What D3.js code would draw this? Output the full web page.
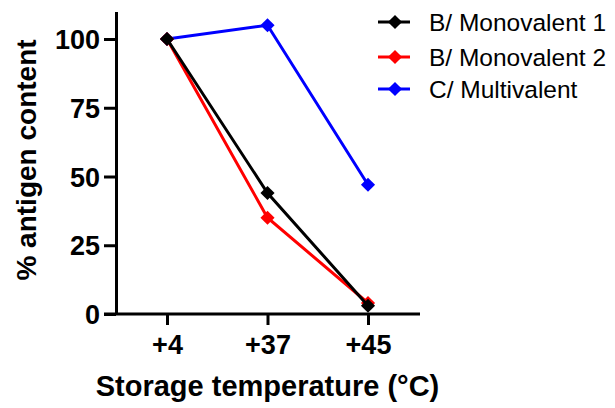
<!DOCTYPE html>
<html lang="en">
<head>
<meta charset="UTF-8"/>
<title>Antigen content vs storage temperature</title>
<script src="https://d3js.org/d3.v7.min.js"></script>
<style>
  body { margin: 0; background: #fff; }
  text { font-family: Arial, "Liberation Sans", sans-serif; }
</style>
</head>
<body>
<script>
    // data
    var temps = ["+4", "+37", "+45"];
    var seriesNames = ["B/ Monovalent 1", "B/ Monovalent 2", "C/ Multivalent"];
    var seriesColors = ["#000000", "#ff0000", "#0000ff"];
    var mono1 = [100, 44, 3];
    var mono2 = [100, 35, 4];
    var multi = [100, 105, 47];
    var yTicks = [0, 25, 50, 75, 100];

    var w = 615, h = 408;

    var svg = d3.select("body").append("svg")
        .attr("width", w)
        .attr("height", h);

    var xScale = d3.scalePoint()
        .domain(temps)
        .range([167, 368]);

    var yScale = d3.scaleLinear()
        .domain([0, 110])
        .range([314, 11.5]);

    // y axis
    var yAxis = d3.axisLeft(yScale)
        .tickValues(yTicks)
        .tickSize(12)
        .tickSizeOuter(0)
        .tickPadding(4);

    var gy = svg.append("g")
        .attr("transform", "translate(116,0)")
        .call(yAxis);
    gy.selectAll("path, line").attr("stroke", "#000").attr("stroke-width", 3);
    gy.selectAll("text")
        .attr("font-size", "27px")
        .attr("font-weight", "bold")
        .attr("fill", "#000")
        .attr("dy", "0.36em");

    // x axis
    var xAxis = d3.axisBottom(xScale)
        .tickSize(11)
        .tickSizeOuter(0)
        .tickPadding(9);

    var gx = svg.append("g")
        .attr("transform", "translate(0,314)")
        .call(xAxis);
    gx.select(".domain").attr("d", "M104,0H420");
    gx.selectAll("path, line").attr("stroke", "#000").attr("stroke-width", 3);
    gx.selectAll("text")
        .attr("font-size", "27px")
        .attr("font-weight", "bold")
        .attr("fill", "#000")
        .attr("dy", "0.74em");

    // axis titles
    svg.append("text")
        .attr("transform", "rotate(-90)")
        .attr("x", -160)
        .attr("y", 36)
        .attr("text-anchor", "middle")
        .attr("font-size", "28px")
        .attr("font-weight", "bold")
        .text("% antigen content");

    svg.append("text")
        .attr("x", 267.5)
        .attr("y", 396)
        .attr("text-anchor", "middle")
        .attr("font-size", "29px")
        .attr("font-weight", "bold")
        .text("Storage temperature (°C)");

    // lines and markers
    var allSeries = [mono1, mono2, multi];
    var line = d3.line()
        .x(function(d, i) { return xScale(temps[i]); })
        .y(function(d) { return yScale(d); });
    var diamond = d3.symbol().type(d3.symbolSquare).size(100);

    // draw blue first, then red, then black on top
    [2, 1, 0].forEach(function(k) {
        var g = svg.append("g");
        g.append("path")
            .attr("d", line(allSeries[k]))
            .attr("fill", "none")
            .attr("stroke", seriesColors[k])
            .attr("stroke-width", 3);
        g.selectAll("path.marker")
            .data(allSeries[k])
            .enter()
            .append("path")
            .attr("class", "marker")
            .attr("d", diamond)
            .attr("transform", function(d, i) {
                return "translate(" + xScale(temps[i]) + "," + yScale(d) + ") rotate(45)";
            })
            .attr("fill", seriesColors[k]);
    });

    // legend
    var legendY = [22, 57, 89];
    var legend = svg.selectAll("g.legend")
        .data(seriesNames)
        .enter()
        .append("g")
        .attr("class", "legend")
        .attr("transform", function(d, i) { return "translate(0," + legendY[i] + ")"; });

    legend.append("line")
        .attr("x1", 378).attr("x2", 410)
        .attr("y1", 0).attr("y2", 0)
        .attr("stroke", function(d, i) { return seriesColors[i]; })
        .attr("stroke-width", 3);
    legend.append("path")
        .attr("d", diamond)
        .attr("transform", "translate(395,0) rotate(45)")
        .attr("fill", function(d, i) { return seriesColors[i]; });
    legend.append("text")
        .attr("x", 429)
        .attr("y", 0)
        .attr("dy", "0.36em")
        .attr("font-size", "24.5px")
        .attr("fill", "#000")
        .text(function(d) { return d; });
</script>
</body>
</html>
